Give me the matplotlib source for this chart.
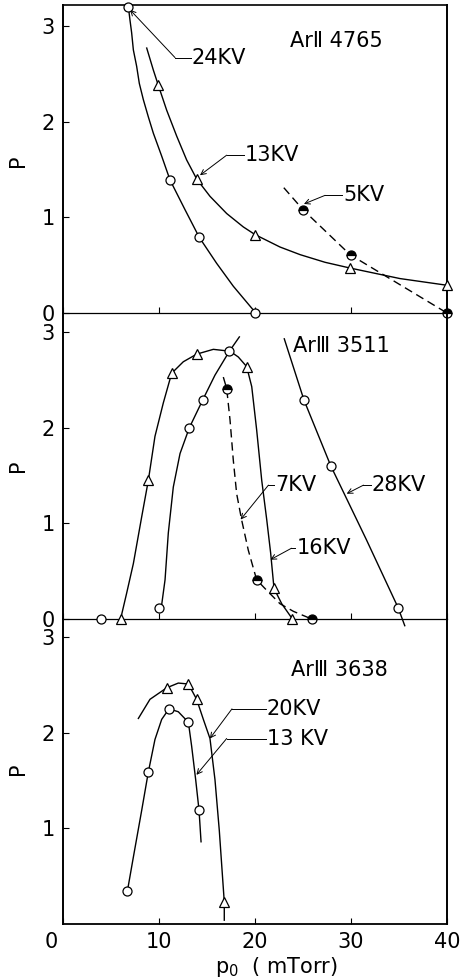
import matplotlib.pyplot as plt
from matplotlib.transforms import ScaledTranslation

plt.rcParams['font.family'] = ['DejaVu Sans']
plt.rcParams['font.size'] = 15

# ---- Ar II 4765 (top panel) ----
a2_24kv_x = [6.8, 11.15, 14.2, 20.0]
a2_24kv_y = [3.2, 1.39, 0.79, 0.0]
a2_24kv_cx = [6.81, 6.98, 7.15, 7.33, 7.67, 7.95, 8.37, 8.89, 9.41, 10.28, 11.15,
              12.71, 14.2, 16.0, 17.74, 20.0]
a2_24kv_cy = [3.20, 3.06, 2.93, 2.75, 2.58, 2.40, 2.23, 2.05, 1.88, 1.64, 1.39,
              1.08, 0.79, 0.52, 0.28, 0.01]

a2_13kv_x = [9.93, 13.93, 20.0, 29.9, 40.0]
a2_13kv_y = [2.38, 1.40, 0.82, 0.47, 0.29]
a2_13kv_cx = [8.72, 9.41, 9.93, 10.8, 11.84, 12.88, 13.93, 15.31, 17.05, 18.78,
              20.0, 22.6, 24.7, 27.3, 29.9, 35.1, 40.0]
a2_13kv_cy = [2.77, 2.54, 2.38, 2.12, 1.85, 1.60, 1.40, 1.22, 1.04, 0.90,
              0.82, 0.69, 0.61, 0.53, 0.47, 0.36, 0.29]

a2_5kv_x = [25.0, 30.0, 40.0]
a2_5kv_y = [1.08, 0.61, 0.0]
a2_5kv_cx = [23.0, 25.0, 29.9, 40.0]
a2_5kv_cy = [1.31, 1.08, 0.61, 0.0]

# ---- Ar III 3511 (middle panel) ----
a3a_16kv_x = [6.0, 8.89, 11.32, 13.93, 19.13, 21.98, 23.9]
a3a_16kv_y = [0.0, 1.45, 2.57, 2.77, 2.64, 0.32, 0.0]
a3a_16kv_cx = [6.0, 6.63, 7.33, 8.2, 8.89, 9.58, 10.45, 11.32, 12.53, 13.93, 15.66,
               17.4, 18.26, 19.13, 19.66, 20.17, 20.7, 21.22, 21.63, 21.98, 22.78, 23.9]
a3a_16kv_cy = [0.0, 0.27, 0.58, 1.07, 1.45, 1.91, 2.26, 2.57, 2.69, 2.77, 2.82,
               2.80, 2.74, 2.64, 2.43, 1.98, 1.45, 1.04, 0.69, 0.32, 0.16, 0.0]

a3a_circ_x = [4.0, 10.0, 13.16, 14.55, 17.33]
a3a_circ_y = [0.0, 0.12, 2.0, 2.29, 2.80]
a3a_circ_cx = [10.28, 10.63, 10.97, 11.49, 12.19, 13.16, 14.55, 15.83, 17.33, 18.37]
a3a_circ_cy = [0.15, 0.41, 0.90, 1.38, 1.73, 2.0, 2.29, 2.55, 2.80, 2.95]

a3a_28kv_x = [25.1, 27.9, 34.9]
a3a_28kv_y = [2.29, 1.60, 0.12]
a3a_28kv_cx = [23.05, 25.1, 27.9, 31.6, 34.9, 35.6]
a3a_28kv_cy = [2.93, 2.29, 1.60, 0.83, 0.12, -0.07]

a3a_7kv_x = [17.05, 20.17, 25.9]
a3a_7kv_y = [2.41, 0.41, 0.0]
a3a_7kv_cx = [16.7, 17.05, 17.4, 17.74, 18.09, 18.6, 19.3, 20.17, 21.22, 22.6, 24.0, 25.9]
a3a_7kv_cy = [2.53, 2.41, 2.08, 1.66, 1.31, 1.04, 0.72, 0.41, 0.30, 0.16, 0.08, 0.0]

# ---- Ar III 3638 (bottom panel) ----
a3b_13kv_x = [6.7, 8.89, 11.04, 13.06, 14.17]
a3b_13kv_y = [0.34, 1.59, 2.25, 2.11, 1.19]
a3b_13kv_cx = [6.7, 7.33, 8.2, 8.89, 9.58, 10.28, 11.04, 12.01, 13.06, 13.4, 13.82,
               14.17, 14.38]
a3b_13kv_cy = [0.34, 0.70, 1.19, 1.59, 1.93, 2.14, 2.25, 2.22, 2.11, 1.86, 1.51,
               1.19, 0.86]

a3b_20kv_x = [10.8, 13.06, 13.92, 16.8]
a3b_20kv_y = [2.47, 2.51, 2.35, 0.23]
a3b_20kv_cx = [7.85, 9.06, 10.8, 12.01, 13.06, 13.92, 14.62, 15.31, 15.83, 16.28,
               16.64, 16.8, 16.8]
a3b_20kv_cy = [2.15, 2.35, 2.47, 2.52, 2.51, 2.35, 2.14, 1.94, 1.51, 0.98,
               0.46, 0.23, 0.04]

xticks = [0, 10, 20, 30, 40]

fig = plt.figure(figsize=(4.62, 9.8), dpi=100)
L, W = 63 / 462, 384 / 462
ax1 = fig.add_axes([L, 1 - 313 / 980, W, 308 / 980])
ax2 = fig.add_axes([L, 1 - 619 / 980, W, 306 / 980])
ax3 = fig.add_axes([L, 1 - 924 / 980, W, 305 / 980])

lw = 1.0
dash = (6, 3.5)
circ = dict(marker='o', ls='none', ms=6.5, mfc='white', mec='k', mew=0.9, clip_on=False, zorder=4)
tri = dict(marker='^', ls='none', ms=7.5, mfc='white', mec='k', mew=0.9, clip_on=False, zorder=4)
half = dict(marker='o', ls='none', ms=6.5, mfc='k', mfcalt='white', fillstyle='top',
            mec='k', mew=0.9, clip_on=False, zorder=4)


def lead(ax, text, x, y, bend, tip):
    ax.text(x, y, text, ha='left', va='center', fontsize=15)
    ax.plot([x - 0.1, bend], [y, y], color='k', lw=0.7, clip_on=False)
    ax.annotate('', xy=tip, xytext=(bend, y),
                arrowprops=dict(arrowstyle='->', color='k', lw=0.7,
                                shrinkA=0, shrinkB=0, mutation_scale=9))


# top
ax1.plot(a2_24kv_cx, a2_24kv_cy, 'k-', lw=lw, clip_on=False)
ax1.plot(a2_24kv_x, a2_24kv_y, **circ)
ax1.plot(a2_13kv_cx, a2_13kv_cy, 'k-', lw=lw, clip_on=False)
ax1.plot(a2_13kv_x, a2_13kv_y, **tri)
ax1.plot(a2_5kv_cx, a2_5kv_cy, 'k--', lw=lw, dashes=dash, clip_on=False)
ax1.plot(a2_5kv_x, a2_5kv_y, **half)
lead(ax1, '24KV', 13.4, 2.67, 11.67, (6.98, 3.17))
lead(ax1, '13KV', 18.96, 1.65, 17.05, (14.27, 1.44))
lead(ax1, '5KV', 29.2, 1.23, 27.3, (25.1, 1.14))
ax1.text(23.65, 2.84, 'Ar\u2161 4765', ha='left', va='center', fontsize=15)

# middle
ax2.plot(a3a_16kv_cx, a3a_16kv_cy, 'k-', lw=lw, clip_on=False)
ax2.plot(a3a_16kv_x, a3a_16kv_y, **tri)
ax2.plot(a3a_circ_cx, a3a_circ_cy, 'k-', lw=lw, clip_on=False)
ax2.plot(a3a_circ_x, a3a_circ_y, **circ)
ax2.plot(a3a_28kv_cx, a3a_28kv_cy, 'k-', lw=lw, clip_on=False)
ax2.plot(a3a_28kv_x, a3a_28kv_y, **circ)
ax2.plot(a3a_7kv_cx, a3a_7kv_cy, 'k--', lw=lw, dashes=dash, clip_on=False)
ax2.plot(a3a_7kv_x, a3a_7kv_y, **half)
lead(ax2, '7KV', 22.1, 1.40, 21.4, (18.5, 1.04))
lead(ax2, '16KV', 24.3, 0.74, 23.8, (21.6, 0.62))
lead(ax2, '28KV', 32.15, 1.40, 31.3, (29.55, 1.31))
ax2.text(24.0, 2.86, 'Ar\u2162 3511', ha='left', va='center', fontsize=15)

# bottom
ax3.plot(a3b_13kv_cx, a3b_13kv_cy, 'k-', lw=lw, clip_on=False)
ax3.plot(a3b_13kv_x, a3b_13kv_y, **circ)
ax3.plot(a3b_20kv_cx, a3b_20kv_cy, 'k-', lw=lw, clip_on=False)
ax3.plot(a3b_20kv_x, a3b_20kv_y, **tri)
lead(ax3, '20KV', 21.2, 2.25, 17.6, (15.3, 1.94))
lead(ax3, '13 KV', 21.2, 1.94, 17.05, (13.9, 1.56))
ax3.text(23.8, 2.66, 'Ar\u2162 3638', ha='left', va='center', fontsize=15)

for ax, top in ((ax1, 3.22), (ax2, 3.2), (ax3, 3.19)):
    ax.set_xlim(0, 40)
    ax.set_ylim(0, top)
    ax.patch.set_visible(False)
    ax.set_xticks(xticks)
    ax.tick_params(direction='in', length=4, width=0.8, pad=6, labelsize=15)
    ax.spines['left'].set_linewidth(1.4)
    ax.spines['right'].set_linewidth(1.4)
    ax.spines['bottom'].set_linewidth(0.9)
    ax.spines['top'].set_linewidth(1.2)

ax2.spines['top'].set_visible(False)
ax3.spines['top'].set_visible(False)
ax3.spines['bottom'].set_linewidth(1.3)
ax1.set_yticks([0, 1, 2, 3])
ax2.set_yticks([0, 1, 2, 3])
ax3.set_yticks([1, 2, 3])
ax1.tick_params(labelbottom=False)
ax2.tick_params(labelbottom=False)

lbl0 = ax3.get_xticklabels()[0]
lbl0.set_transform(lbl0.get_transform() + ScaledTranslation(-0.12, 0, fig.dpi_scale_trans))

for yc in (161, 466, 769):
    fig.text(18 / 462, 1 - yc / 980, 'P', rotation=90, ha='center', va='center', fontsize=15)
fig.text(276 / 462, 1 - 967 / 980, 'p$_0$  ( mTorr)', ha='center', va='center', fontsize=15)

fig.savefig('out.png', dpi=100)
